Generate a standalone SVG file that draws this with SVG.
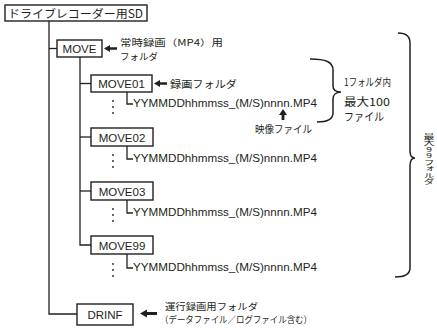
<svg xmlns="http://www.w3.org/2000/svg" xmlns:xlink="http://www.w3.org/1999/xlink" width="437" height="328" viewBox="0 0 437 328">
<style>
.box{fill:#fff;stroke:#231f20;stroke-width:1.4}
.ln{fill:none;stroke:#231f20;stroke-width:1.3}
.br{fill:none;stroke:#231f20;stroke-width:1.5}
.jp{font-family:"Noto Sans CJK JP","Noto Sans",sans-serif;fill:#231f20}
.lt{font-family:"Liberation Sans",Arial,sans-serif;fill:#231f20}
.dot{fill:#231f20}
.vt{writing-mode:vertical-rl;text-orientation:upright}
</style>
<defs>
<path id="arL" d="M0,0 L6,-3.6 L6,-1.3 L13,-1.3 L13,1.3 L6,1.3 L6,3.6 Z" fill="#231f20"/>
<path id="arLb" d="M0,0 L7,-4 L7,-1.5 L17,-1.5 L17,1.5 L7,1.5 L7,4 Z" fill="#231f20"/>
<path id="arU" d="M0,0 L-4,6 L-1.4,6 L-1.4,11 L1.4,11 L1.4,6 L4,6 Z" fill="#231f20"/>
<g id="vdots"><circle cx="0" cy="-6" r="0.9"/><circle cx="0" cy="0" r="0.9"/><circle cx="0" cy="6" r="0.9"/></g>
</defs>

<g id="connectors">
<path class="ln" d="M49,21 V314 H77"/>
<path class="ln" d="M49,48.5 H57"/>
<path class="ln" d="M80,57 V245 H91"/>
<path class="ln" d="M80,83.5 H91"/>
<path class="ln" d="M80,137 H91"/>
<path class="ln" d="M80,191 H91"/>
<path class="ln" d="M127,92 V104 H133"/>
<path class="ln" d="M127,146 V159 H133"/>
<path class="ln" d="M127,200 V213 H133"/>
<path class="ln" d="M127,254 V268 H133"/>
<use xlink:href="#arL" href="#arL" x="104" y="48.5"/>
<use xlink:href="#arL" href="#arL" x="154" y="83.5"/>
<use xlink:href="#arLb" href="#arLb" x="140" y="313.5"/>
<use xlink:href="#arU" href="#arU" x="283" y="109"/>
<path class="br" d="M310,59 C326,59 333,62 333,70 L333,86 C333,90 336,92 341,92 C336,92 333,95 333,99 L333,113 C333,120 326,122 317,122"/>
<path class="br" d="M398,33 C406,33 410,36 410,43 L410,151 C410,156 412,158 415,158 C412,158 410,161 410,166 L410,268 C410,274 405,277 395,277"/>
</g>

<g id="root">
<rect class="box" x="5" y="5" width="142" height="16"/>
<text class="jp" x="8" y="17.5" font-size="11.5" textLength="135" lengthAdjust="spacingAndGlyphs">ドライブレコーダー用SD</text>
</g>

<g id="move">
<rect class="box" x="57" y="40" width="45" height="17"/>
<text class="lt" x="79.5" y="53" font-size="11.5" text-anchor="middle">MOVE</text>
<text class="jp" x="120" y="46" font-size="9.3" textLength="103" lengthAdjust="spacingAndGlyphs">常時録画（MP4）用</text>
<text class="jp" x="120" y="59.6" font-size="9.3" textLength="38" lengthAdjust="spacingAndGlyphs">フォルダ</text>
</g>

<g id="move01">
<rect class="box" x="91" y="75" width="61" height="17"/>
<text class="lt" x="121.5" y="88" font-size="11.5" text-anchor="middle">MOVE01</text>
<text class="jp" x="170" y="87.5" font-size="10.5" textLength="67" lengthAdjust="spacingAndGlyphs">録画フォルダ</text>
</g>
<g id="file01">
<use xlink:href="#vdots" href="#vdots" class="dot" x="113" y="107"/>
<text class="lt" x="133" y="107" font-size="11" textLength="184" lengthAdjust="spacingAndGlyphs">YYMMDDhhmmss_(M/S)nnnn.MP4</text>
</g>

<g id="move02">
<rect class="box" x="91" y="128" width="62" height="18"/>
<text class="lt" x="122" y="141.5" font-size="11.5" text-anchor="middle">MOVE02</text>
</g>
<g id="file02">
<use xlink:href="#vdots" href="#vdots" class="dot" x="113" y="161"/>
<text class="lt" x="133" y="162" font-size="11" textLength="184" lengthAdjust="spacingAndGlyphs">YYMMDDhhmmss_(M/S)nnnn.MP4</text>
</g>

<g id="move03">
<rect class="box" x="91" y="182" width="62" height="18"/>
<text class="lt" x="122" y="195.5" font-size="11.5" text-anchor="middle">MOVE03</text>
</g>
<g id="file03">
<use xlink:href="#vdots" href="#vdots" class="dot" x="113" y="215"/>
<text class="lt" x="133" y="216" font-size="11" textLength="184" lengthAdjust="spacingAndGlyphs">YYMMDDhhmmss_(M/S)nnnn.MP4</text>
</g>

<g id="move99">
<rect class="box" x="91" y="236" width="62" height="18"/>
<text class="lt" x="122" y="249.5" font-size="11.5" text-anchor="middle">MOVE99</text>
</g>
<g id="file99">
<use xlink:href="#vdots" href="#vdots" class="dot" x="113" y="270"/>
<text class="lt" x="133" y="271" font-size="11" textLength="184" lengthAdjust="spacingAndGlyphs">YYMMDDhhmmss_(M/S)nnnn.MP4</text>
</g>

<g id="drinf">
<rect class="box" x="77" y="304" width="56" height="21"/>
<text class="lt" x="105" y="318.5" font-size="11.5" text-anchor="middle">DRINF</text>
<text class="jp" x="165" y="309.5" font-size="9.2" textLength="93" lengthAdjust="spacingAndGlyphs">運行録画用フォルダ</text>
<text class="jp" x="160" y="323" font-size="9.2" textLength="152" lengthAdjust="spacingAndGlyphs">（データファイル／ログファイル含む）</text>
</g>

<g id="notes">
<text class="jp" x="344" y="86" font-size="10.5" textLength="47" lengthAdjust="spacingAndGlyphs">1フォルダ内</text>
<text class="jp" x="344" y="106" font-size="11" textLength="46" lengthAdjust="spacingAndGlyphs">最大100</text>
<text class="jp" x="344" y="121" font-size="11" textLength="40" lengthAdjust="spacingAndGlyphs">ファイル</text>
<text class="jp" x="255" y="133" font-size="10.5" textLength="57" lengthAdjust="spacingAndGlyphs">映像ファイル</text>
</g>

<g id="max99" transform="translate(429,133) scale(1.7,1)">
<text class="jp vt" x="0" y="0" font-size="6.5">最大99フォルダ</text>
</g>
</svg>
